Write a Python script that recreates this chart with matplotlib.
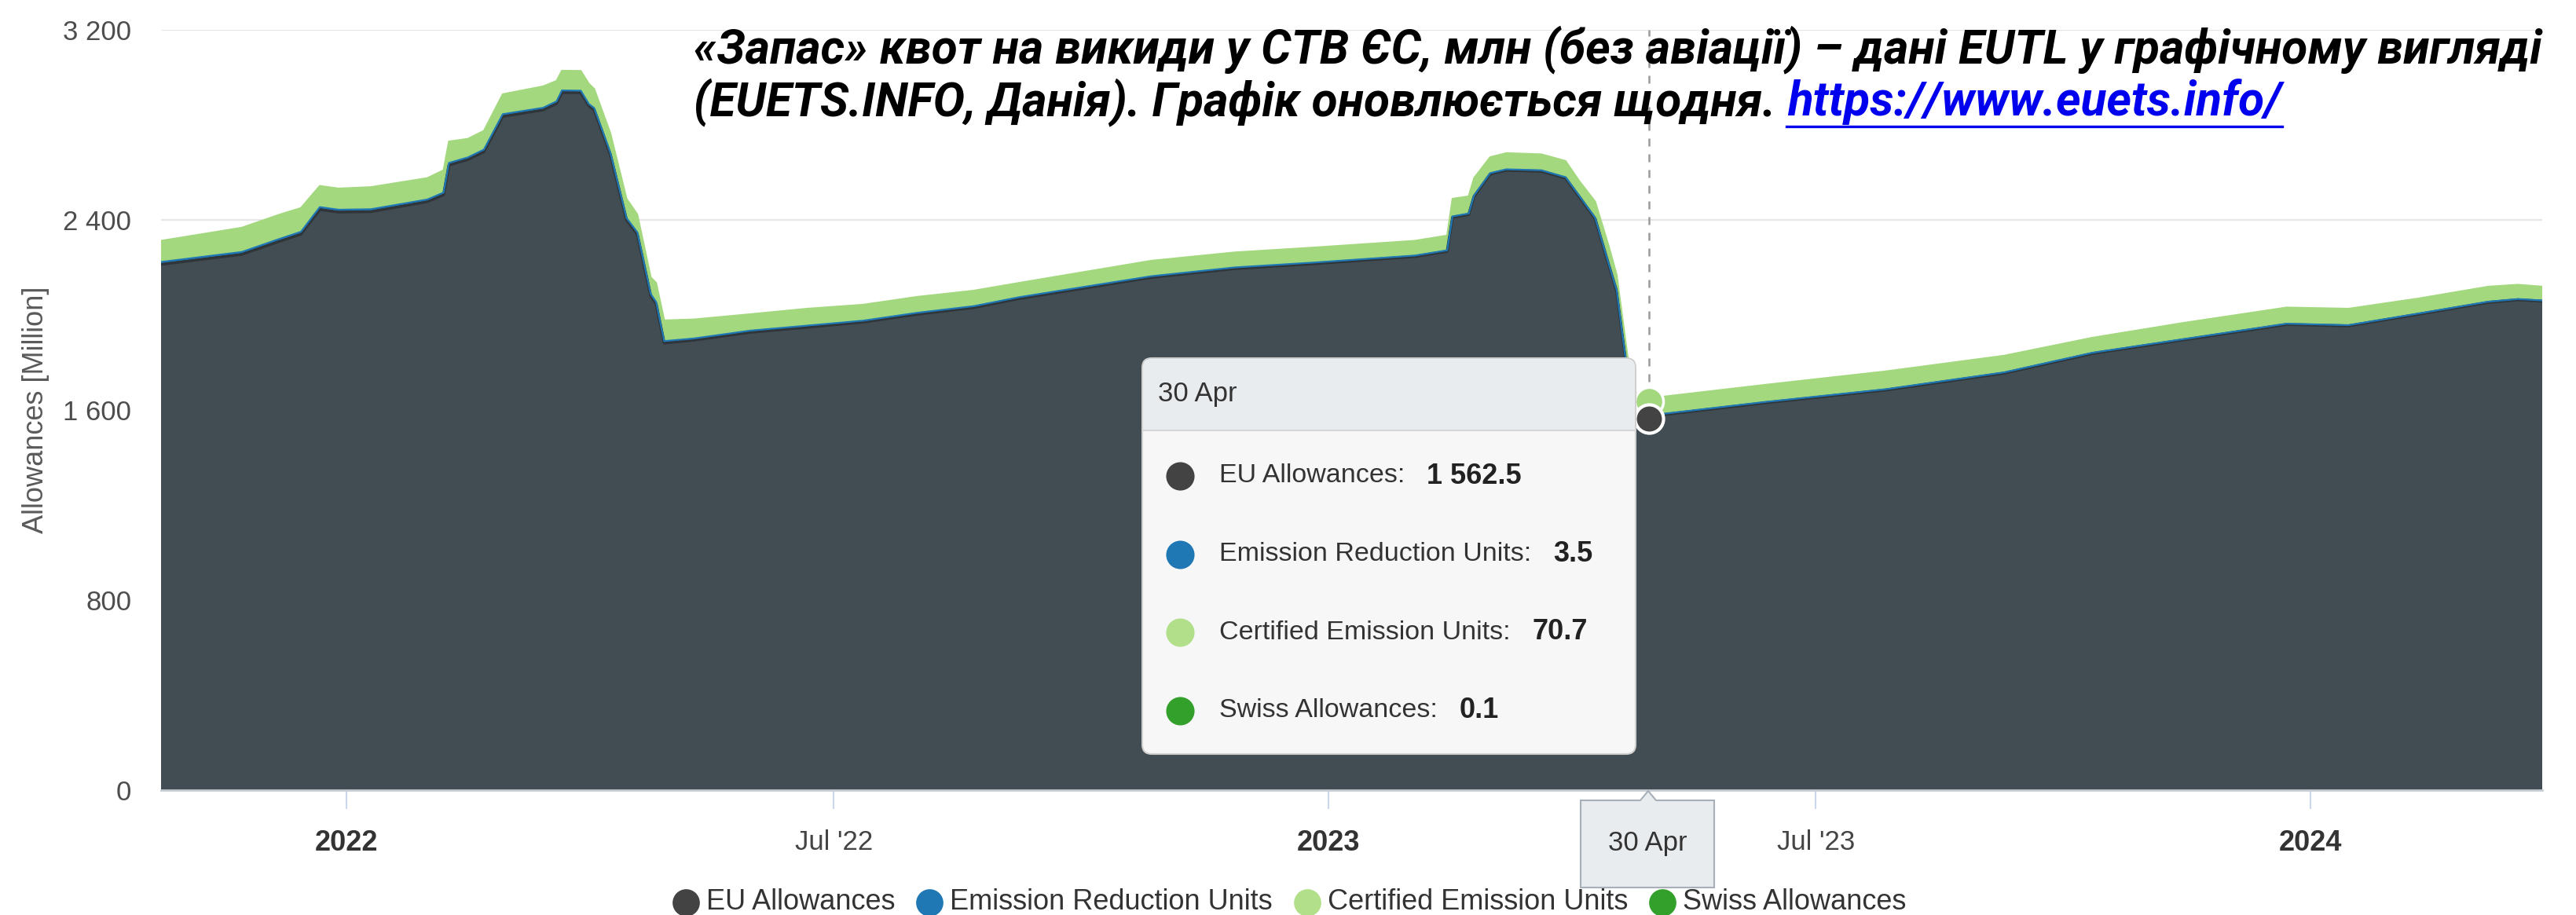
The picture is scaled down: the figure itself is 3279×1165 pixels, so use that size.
import matplotlib
matplotlib.use("Agg")
import matplotlib.pyplot as plt
import numpy as np
import pandas as pd
from matplotlib.lines import Line2D
from matplotlib.patches import FancyBboxPatch, Rectangle, Polygon
from matplotlib.transforms import IdentityTransform

W, H = 3280, 1165
OUTPUT_PATH = "out.png"

# values (million allowances), EU Allowances at the bottom of the stack
DATES = [
    "2021-10-24", "2021-11-23", "2021-12-07", "2021-12-15", "2021-12-22", "2021-12-29",
    "2022-01-10", "2022-01-31", "2022-02-06", "2022-02-08", "2022-02-15", "2022-02-21",
    "2022-02-28", "2022-03-15", "2022-03-20", "2022-03-22", "2022-03-29", "2022-04-01",
    "2022-04-03", "2022-04-09", "2022-04-15", "2022-04-19", "2022-04-24", "2022-04-26",
    "2022-04-29", "2022-05-10", "2022-05-31", "2022-06-21", "2022-07-12", "2022-08-01",
    "2022-08-22", "2022-09-08", "2022-10-27", "2022-11-27", "2022-12-27", "2023-02-02",
    "2023-02-14", "2023-02-16", "2023-02-22", "2023-02-24", "2023-03-02", "2023-03-08",
    "2023-03-21", "2023-03-30", "2023-04-04", "2023-04-10", "2023-04-15", "2023-04-18",
    "2023-04-22", "2023-04-25", "2023-04-30", "2023-05-05", "2023-06-12", "2023-07-27",
    "2023-09-09", "2023-10-12", "2023-11-14", "2023-12-23", "2024-01-15", "2024-02-10",
    "2024-03-07", "2024-03-18", "2024-03-27",
]
EUA = [
    2213, 2255, 2310, 2340, 2444, 2433,
    2435, 2477, 2506, 2631, 2654, 2687,
    2836, 2863, 2890, 2936, 2936, 2880,
    2863, 2675, 2400, 2340, 2080, 2047,
    1882, 1894, 1927, 1948, 1970, 2003,
    2031, 2069, 2158, 2195, 2216, 2246,
    2268, 2411, 2423, 2499, 2593, 2609,
    2605, 2576, 2499, 2405, 2213, 2100,
    1755, 1600, 1562.5, 1580, 1630, 1684,
    1755, 1838, 1894, 1960, 1954, 2003,
    2053, 2064, 2058,
]
ERU = [
    10, 10, 10, 10, 10, 10,
    10, 9, 9, 9, 9, 9,
    9, 9, 9, 9, 8, 8,
    8, 8, 8, 8, 8, 8,
    8, 7, 7, 7, 6, 6,
    6, 6, 5, 5, 5, 4,
    4, 4, 4, 4, 4, 4,
    4, 4, 4, 4, 4, 4,
    3.5, 3.5, 3.5, 3.5, 3.5, 3.4,
    3.3, 3.3, 3.2, 3.2, 3.1, 3.1,
    3, 3, 3,
]
CER = [
    89, 102, 102, 100, 89, 89,
    93, 90, 94, 90, 78, 79,
    84, 90, 86, 83, 83, 85,
    80, 81, 81, 75, 70, 80,
    87, 80, 69, 71, 67, 67,
    65, 60, 65, 63, 63, 62,
    62, 74, 72, 73, 67, 68,
    67, 68, 62, 68, 74, 65,
    70, 70, 70.7, 72, 72, 75,
    70, 63, 68, 68, 69, 63,
    63, 60, 58,
]
CHU = [0.1] * len(DATES)

SERIES_NAMES = ["EU Allowances", "Emission Reduction Units", "Certified Emission Units", "Swiss Allowances"]
DOT_COLORS = ["#434343", "#1f78b4", "#b2df8a", "#33a02c"]

HOVER_DATE = "2023-04-30"
HOVER_LABEL = "30 Apr"

Y_TICKS = [0, 800, 1600, 2400, 3200]
Y_TICK_LABELS = ["0", "800", "1 600", "2 400", "3 200"]
X_TICKS = ["2022-01-01", "2022-07-01", "2023-01-01", "2023-07-01", "2024-01-01"]
X_TICK_LABELS = ["2022", "Jul '22", "2023", "Jul '23", "2024"]

TITLE_1 = "«Запас» квот на викиди у СТВ ЄС, млн (без авіації) – дані EUTL у графічному вигляді"
TITLE_2 = "(EUETS.INFO, Данія). Графік оновлюється щодня."
TITLE_LINK = "https://www.euets.info/"

EUA_FILL = "#424c53"
EUA_LINE = "#2f3539"
CER_FILL = "#a3d87f"

plt.rcParams["font.family"] = ["Liberation Sans", "DejaVu Sans"]
IDENT = IdentityTransform()


def fmt(value: float) -> str:
    return f"{value:,.1f}".replace(",", " ")


def px_text(fig, x, y, s, **kw):
    # x, y in image pixels measured from the top-left corner
    return fig.text(x, H - y, s, transform=IDENT, **kw)


def px_dot(fig, x, y, color, size, edge="none", ew=0.0, z=10):
    fig.add_artist(Line2D([x], [H - y], marker="o", markersize=size, color=color,
                          markeredgecolor=edge, markeredgewidth=ew, linestyle="none",
                          transform=IDENT, zorder=z))


fig = plt.figure(figsize=(W / 100, H / 100), dpi=100)
ax = fig.add_axes([205 / W, (H - 1006) / H, (3236 - 205) / W, (1006 - 38) / H])

dates = pd.to_datetime(DATES)
eua = np.array(EUA, dtype=float)
eru = np.array(ERU, dtype=float)
cer = np.array(CER, dtype=float)
chu = np.array(CHU, dtype=float)

hover = pd.Timestamp(HOVER_DATE)
ax.axvline(hover, color="#9a9a9a", linewidth=1.8, linestyle=(0, (4, 4)), zorder=1.5)

ax.stackplot(dates, eua, eru, cer, chu, colors=[EUA_FILL, DOT_COLORS[1], CER_FILL, DOT_COLORS[3]],
             linewidth=0, zorder=2)
ax.plot(dates, eua, color=EUA_LINE, linewidth=2.6, zorder=3)
ax.plot(dates, eua + eru, color=DOT_COLORS[1], linewidth=1.6, zorder=3)
ax.plot(dates, eua + eru + cer + chu, color=CER_FILL, linewidth=1.6, zorder=3)

idx = DATES.index(HOVER_DATE)
ax.plot([hover], [eua[idx] + eru[idx] + cer[idx]], "o", markersize=26, color=CER_FILL,
        markeredgecolor="white", markeredgewidth=2.5, zorder=5)
ax.plot([hover], [eua[idx]], "o", markersize=26, color=DOT_COLORS[0],
        markeredgecolor="white", markeredgewidth=3, zorder=6)

ax.set_xlim(pd.Timestamp("2021-10-24"), pd.Timestamp("2024-03-27"))
ax.set_ylim(0, 3200)
ax.set_yticks(Y_TICKS)
ax.set_yticklabels(Y_TICK_LABELS)
ax.set_xticks(pd.to_datetime(X_TICKS))
ax.set_xticklabels(X_TICK_LABELS)
for label in ax.get_xticklabels():
    if label.get_text()[0].isdigit():
        label.set_fontweight("bold")
        label.set_color("#333333")
        label.set_fontsize(26)
    else:
        label.set_color("#444444")
        label.set_fontsize(25)

ax.tick_params(axis="y", length=0, pad=27, labelsize=25, labelcolor="#4d4d4d")
ax.tick_params(axis="x", length=17, width=1.5, color="#ccd6eb", pad=19)
ax.set_axisbelow(True)
ax.grid(axis="y", color="#e6e6e6", linewidth=1.6)
ax.grid(axis="x", visible=False)
for side in ["top", "right", "left"]:
    ax.spines[side].set_visible(False)
ax.spines["bottom"].set_color("#c6ccd2")
ax.spines["bottom"].set_linewidth(2)
ax.set_ylabel("Allowances [Million]", fontsize=26, color="#5a5a5a")
ax.yaxis.set_label_coords(-0.0468, 0.5)

renderer = fig.canvas.get_renderer()

# tooltip
tip_l, tip_r, tip_t, tip_b, head_b = 1454, 2082, 456, 960, 548
fig.add_artist(FancyBboxPatch((tip_l, H - tip_b), tip_r - tip_l, tip_b - tip_t,
                              boxstyle="round,pad=0,rounding_size=12", transform=IDENT,
                              facecolor="#f7f7f7", edgecolor="#d0d0d0", linewidth=1.5, zorder=8))
fig.add_artist(FancyBboxPatch((tip_l + 1, H - head_b), tip_r - tip_l - 2, head_b - tip_t - 1,
                              boxstyle="round,pad=0,rounding_size=11", transform=IDENT,
                              facecolor="#e9ecef", edgecolor="none", zorder=8.1))
fig.add_artist(Rectangle((tip_l + 1, H - head_b), tip_r - tip_l - 2, 14, transform=IDENT,
                         facecolor="#e9ecef", edgecolor="none", zorder=8.2))
fig.add_artist(Line2D([tip_l + 1, tip_r - 1], [H - head_b, H - head_b], color="#d6d6d6",
                      linewidth=1.5, transform=IDENT, zorder=8.3))
px_text(fig, 1474, 501, HOVER_LABEL, fontsize=25, color="#333333", va="center", zorder=9)

row_values = [eua[idx], eru[idx], cer[idx], chu[idx]]
for i, (name, value, color) in enumerate(zip(SERIES_NAMES, row_values, DOT_COLORS)):
    y = 606 + i * 99.5
    px_dot(fig, 1502, y, color, 26, z=9)
    t = px_text(fig, 1552, y, name + ":", fontsize=24.5, color="#333333", va="center", zorder=9)
    x_end = t.get_window_extent(renderer).x1
    px_text(fig, x_end + 28, y, fmt(value), fontsize=26, fontweight="bold", color="#222222",
            va="center", zorder=9)

# crosshair label on the x axis
fig.add_artist(Polygon([(2012, H - 1019), (2088, H - 1019), (2098, H - 1007), (2108, H - 1019),
                        (2182, H - 1019), (2182, H - 1130), (2012, H - 1130)], closed=True,
                       transform=IDENT, facecolor="#e9ecef", edgecolor="#a7b0b8", linewidth=1.5,
                       zorder=8))
px_text(fig, 2097, 1073, HOVER_LABEL, fontsize=25, color="#333333", ha="center", va="center", zorder=9)

# legend, laid out left to right and centred
legend_texts = []
for name, color in zip(SERIES_NAMES, DOT_COLORS):
    t = px_text(fig, 0, 1148, name, fontsize=26, color="#333333", va="center")
    legend_texts.append((t, color))
widths = [t.get_window_extent(renderer).width for t, _ in legend_texts]
dot_gap, item_gap, radius = 26, 44, 17
total = radius + sum(widths) + len(widths) * dot_gap + (len(widths) - 1) * item_gap
x = 1641 - total / 2 + radius
for (t, color), w in zip(legend_texts, widths):
    px_dot(fig, x, 1149, color, 25)
    t.set_x(x + dot_gap)
    x += dot_gap + w + item_gap

# title with the link, fitted to the width it has in the original
title_kw = dict(fontweight="bold", fontstyle="italic", family=["Roboto", "DejaVu Sans"],
                va="center", zorder=20)
t1 = px_text(fig, 883, 63, TITLE_1, fontsize=36, color="black", **title_kw)
size = 36 * 2353 / t1.get_window_extent(renderer).width
t1.set_fontsize(size)
t2 = px_text(fig, 883, 130, TITLE_2, fontsize=size, color="black", **title_kw)
x_link = t2.get_window_extent(renderer).x1 + size * 0.35
t3 = px_text(fig, x_link, 130, TITLE_LINK, fontsize=size, color="#0000ee", **title_kw)
ext = t3.get_window_extent(renderer)
fig.add_artist(Line2D([ext.x0 - 2, ext.x1], [H - 161, H - 161], color="#0000ee", linewidth=2.4,
                      transform=IDENT, zorder=20))

fig.savefig(OUTPUT_PATH, dpi=100)
plt.close(fig)
